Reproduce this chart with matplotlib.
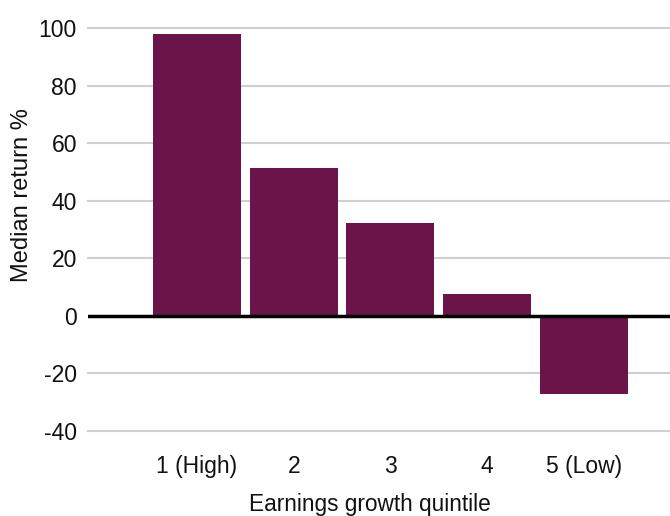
import numpy as np
import matplotlib.pyplot as plt

quintiles = ["1 (High)", "2", "3", "4", "5 (Low)"]
median_return = [97.8, 51.4, 32.3, 7.6, -27.1]
y_ticks = [-40, -20, 0, 20, 40, 60, 80, 100]

plt.rcParams['font.family'] = ['Liberation Sans', 'DejaVu Sans']

fig = plt.figure(figsize=(6.7, 5.16), dpi=100)
ax = fig.add_axes([88/670, 1 - 431/516, 1 - 88/670, (431-28)/516])

x = np.arange(len(quintiles))
ax.bar(x, median_return, width=0.91, color='#6a1449', zorder=2)

ax.set_xlim(-1.127, 4.89)
ax.set_ylim(-40, 100)
ax.set_yticks(y_ticks)
ax.set_yticklabels([str(t) for t in y_ticks])
ax.set_xticks(x)
ax.set_xticklabels(quintiles)

for t in y_ticks:
    if t == 0:
        continue
    ax.axhline(t, color='#cfcfcf', lw=1.5, zorder=1, clip_on=False)
ax.axhline(0, color='black', lw=2.5, zorder=3)

for s in ax.spines.values():
    s.set_visible(False)
ax.tick_params(axis='both', length=0, labelsize=16.5, colors='#111111')
ax.tick_params(axis='y', pad=8)
ax.tick_params(axis='x', pad=17)

ax.set_xlabel("Earnings growth quintile", fontsize=16.3, color='#111111')
ax.xaxis.set_label_coords((370-88)/(670-88), -(493-431)/(431-28))
ax.set_ylabel("Median return %", fontsize=17, color='#111111')
ax.yaxis.set_label_coords(-(88-33)/(670-88), (431-195)/(431-28))

fig.savefig("out.png", dpi=100)
